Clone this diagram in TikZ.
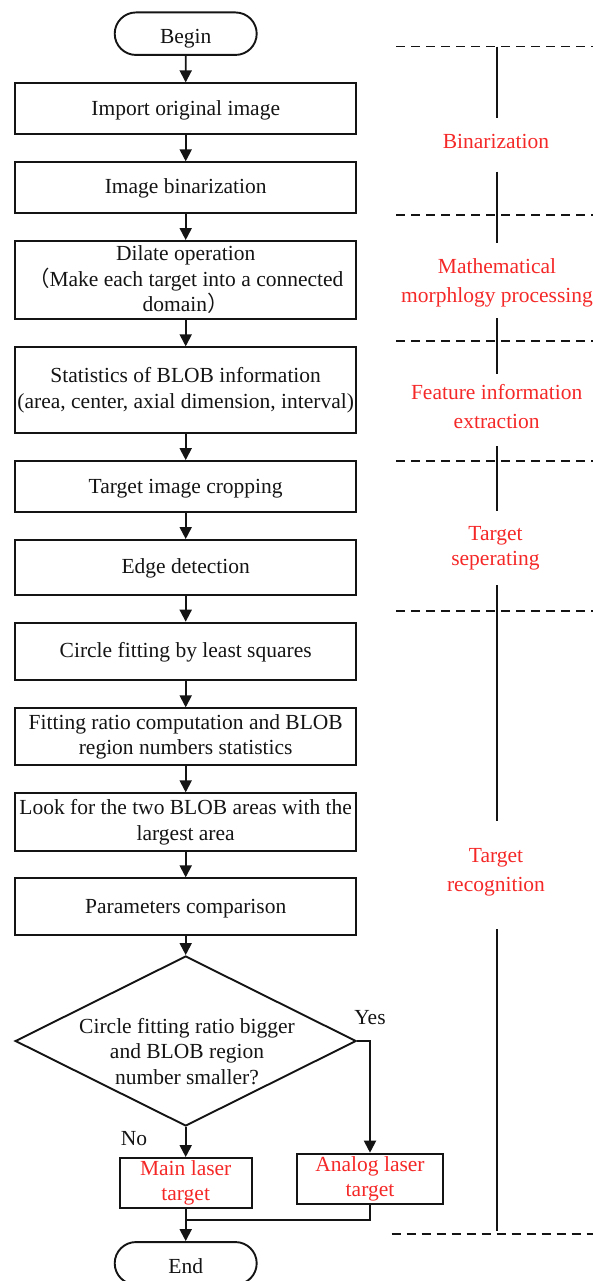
\documentclass[tikz,border=0pt]{standalone}
\usepackage{fontspec}
\setmainfont{Liberation Serif}
\newfontfamily\cjk{Noto Sans CJK SC}
\usetikzlibrary{arrows.meta,shapes.geometric,shapes.misc}
\definecolor{lblred}{RGB}{245,40,40}
\definecolor{ink}{RGB}{20,20,20}
\begin{document}
\begin{tikzpicture}[x=1pt,y=-1pt,
  every node/.style={font=\fontsize{21.5}{25.5}\selectfont, text=ink},
  procbox/.style={draw=ink, line width=1.9pt, rectangle, minimum width=341pt, inner sep=0pt, align=center},
  lowtext/.style={text height=17.5pt, text depth=4.7pt},
  termtext/.style={text height=24.3pt, text depth=4.7pt},
  term/.style={draw=ink, line width=1.9pt, rounded rectangle, minimum width=142pt, minimum height=42.5pt, inner sep=0pt},
  flow/.style={draw=ink, line width=1.9pt, -{Triangle[width=12pt,length=12pt]}},
  plainline/.style={draw=ink, line width=1.9pt},
  sep/.style={draw=ink, line width=1.6pt, dash pattern=on 9pt off 6pt},
  stage/.style={draw=ink, line width=1.9pt},
  phase/.style={text=lblred, align=center}]
\useasboundingbox (0,0) rectangle (593,1281);

% left flow
\node[term, termtext] (begin) at (185.7,33.7) {Begin};
\node[procbox, lowtext, minimum height=50.7pt] (b1) at (185.7,108.7) {Import original image};
\node[procbox, lowtext, minimum height=50.4pt] (b2) at (185.7,187.5) {Image binarization};
\node[procbox, minimum height=78pt] (b3) at (185.7,280) {Dilate operation\\{\cjk（}Make each target into a connected\\domain{\cjk）}};
\node[procbox, minimum height=85.4pt] (b4) at (185.7,390) {Statistics of BLOB information\\(area, center, axial dimension, interval)};
\node[procbox, lowtext, minimum height=51.3pt] (b5) at (185.7,486.7) {Target image cropping};
\node[procbox, lowtext, minimum height=55pt] (b6) at (185.7,567.5) {Edge detection};
\node[procbox, lowtext, minimum height=57.3pt] (b7) at (185.7,651.3) {Circle fitting by least squares};
\node[procbox, minimum height=57pt] (b8) at (185.7,736.8) {Fitting ratio computation and BLOB\\region numbers statistics};
\node[procbox, minimum height=57.4pt] (b9) at (185.7,822) {Look for the two BLOB areas with the\\largest area};
\node[procbox, lowtext, minimum height=57pt] (b10) at (185.7,906.8) {Parameters comparison};
\node[diamond, draw=ink, line width=1.9pt, minimum width=341pt, minimum height=170pt, inner sep=0pt] (dec) at (185.7,1041) {};
\node[align=center] (dectext) at (187,1051.5) {Circle fitting ratio bigger\\and BLOB region\\number smaller?};
\node[procbox, minimum width=131.7pt, minimum height=50pt, text=lblred] (main) at (185.7,1183) {Main laser\\target};
\node[procbox, minimum width=146pt, minimum height=50.3pt, text=lblred] (analog) at (370,1178.8) {Analog laser\\target};
\node[term, termtext] (end) at (185.7,1263.3) {End};
\node (yes) at (370,1017.5) {Yes};
\node (no) at (134,1138.5) {No};
\coordinate (join) at (185.7,1220);

\draw[flow] (begin) -- (b1);
\draw[flow] (b1) -- (b2);
\draw[flow] (b2) -- (b3);
\draw[flow] (b3) -- (b4);
\draw[flow] (b4) -- (b5);
\draw[flow] (b5) -- (b6);
\draw[flow] (b6) -- (b7);
\draw[flow] (b7) -- (b8);
\draw[flow] (b8) -- (b9);
\draw[flow] (b9) -- (b10);
\draw[flow] (b10) -- (dec.north);
\draw[flow] (dec.south) -- (main.north);
\draw[flow] (dec.east) -| (analog.north);
\draw[plainline] (analog.south) |- (join);
\draw[flow] (main.south) -- (end.north);

% right side stages
\foreach \yy in {46.7,215.3,341,460.7,611} \draw[sep] (396,\yy) -- (593,\yy);
\draw[sep] (391.5,1234) -- (593,1234);
\draw[stage] (496.6,46.7) -- (496.6,118);
\draw[stage] (496.6,171.7) -- (496.6,243);
\draw[stage] (496.6,318) -- (496.6,374);
\draw[stage] (496.6,446) -- (496.6,510.7);
\draw[stage] (496.6,585) -- (496.6,821);
\draw[stage] (496.6,929.3) -- (496.6,1230.7);

\node[phase] (p1) at (496,141) {Binarization};
\node[phase, font=\fontsize{21.5}{29}\selectfont] (p2) at (497,283.2) {Mathematical\\morphlogy processing};
\node[phase, font=\fontsize{21.5}{29}\selectfont] (p3) at (496.7,406.7) {Feature information\\extraction};
\node[phase, font=\fontsize{21.5}{25.7}\selectfont] (p4) at (495.5,548.2) {Target\\seperating};
\node[phase, font=\fontsize{21.5}{29}\selectfont] (p5) at (496,872.2) {Target\\recognition};
\end{tikzpicture}
\end{document}
